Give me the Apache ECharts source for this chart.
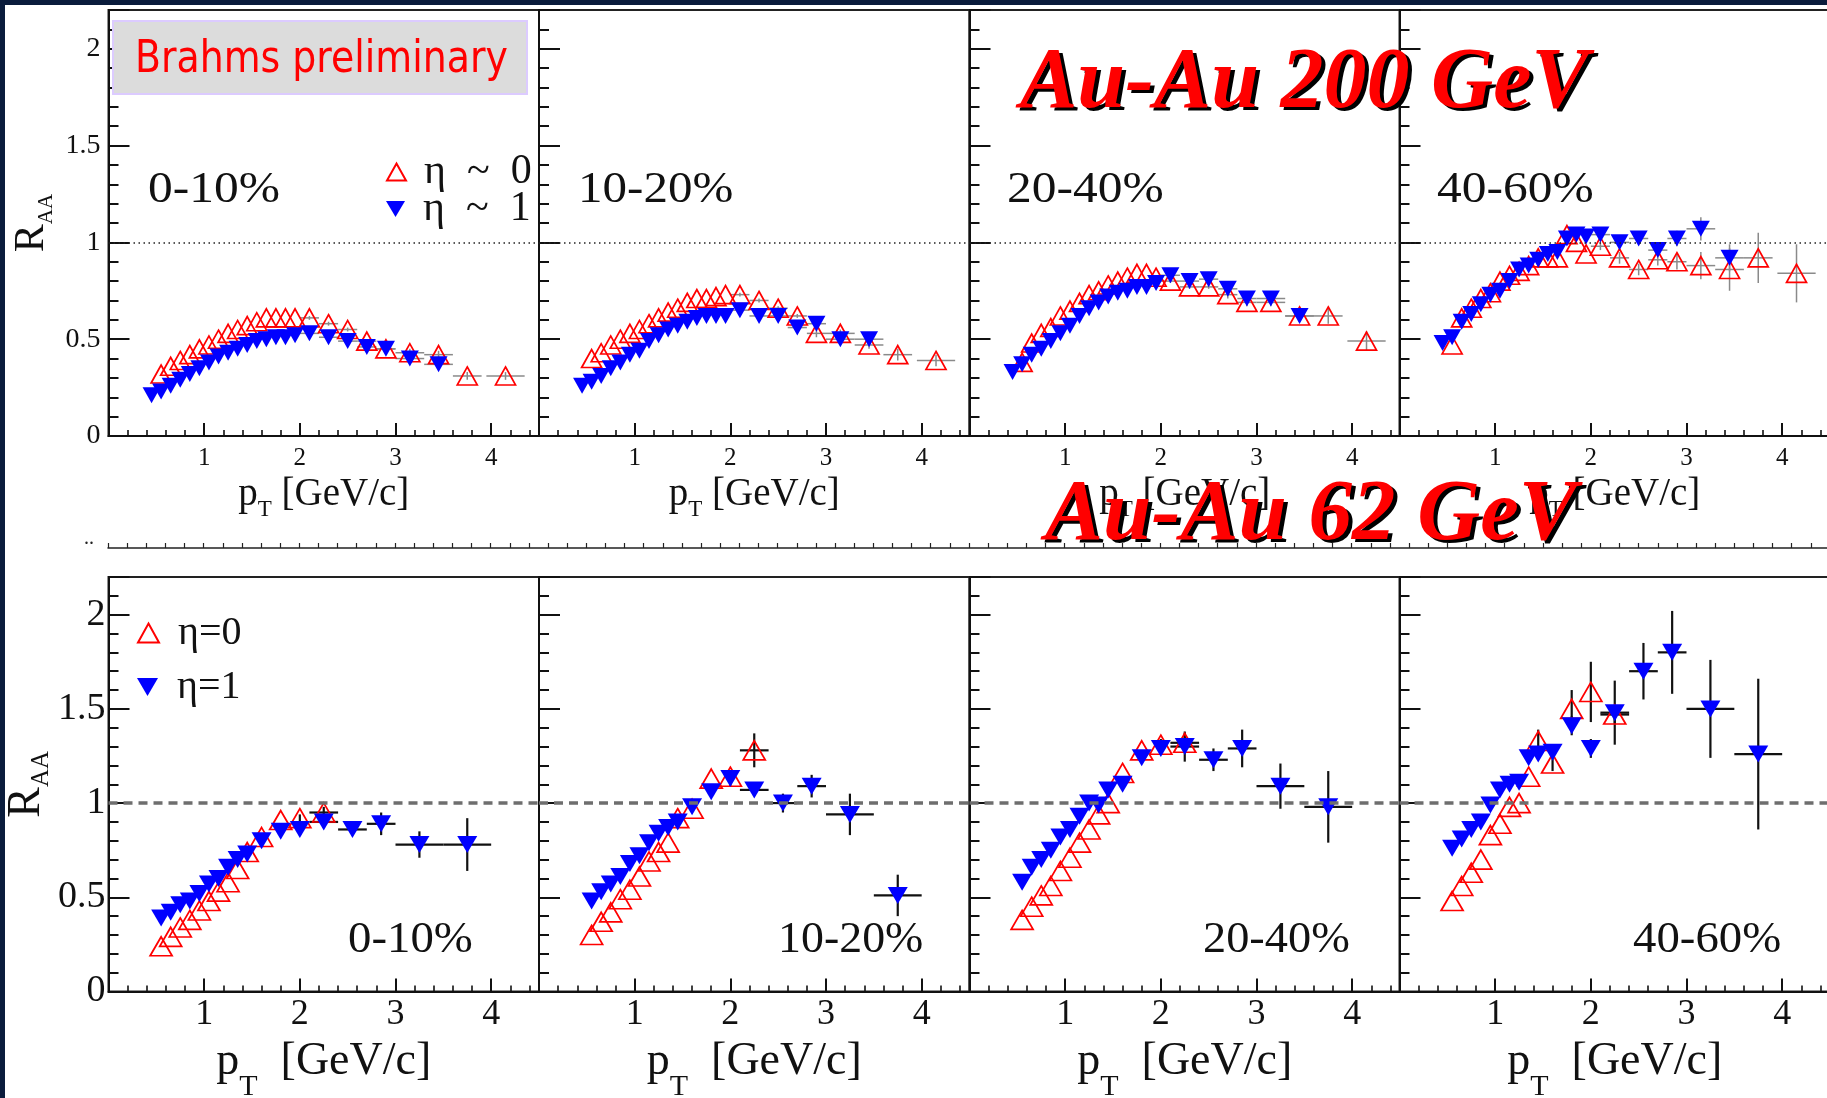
<!DOCTYPE html>
<html>
<head>
<meta charset="utf-8">
<script src="https://cdn.jsdelivr.net/npm/echarts@6/dist/echarts.min.js"></script>
<style>
html,body{margin:0;padding:0;background:#fff;}
#chart{width:1827px;height:1098px;}
</style>
</head>
<body>
<div id="chart"></div>
<script>
// ---------------- DATA ----------------
// Panel titles (centrality classes)
const centralities = ['0-10%', '10-20%', '20-40%', '40-60%'];
const xTickLabels = [1, 2, 3, 4];
const yTickLabels = [0, 0.5, 1, 1.5, 2];
const legendTop = ['η\u2002~\u20020', 'η\u2002~\u20021'];
const legendBottom = ['η=0', 'η=1'];

// Au-Au 200 GeV : pT bin centres and half widths
const ptTopEta0 = [0.55,0.65,0.75,0.85,0.95,1.05,1.15,1.25,1.35,1.45,1.55,1.65,1.75,1.85,1.95,2.1,2.3,2.5,2.7,2.9,3.15,3.45,3.75,4.15];
const binTopEta0 = [0,0,0,0,0,0,0,0,0,0,0,0,0,0,0,0.1,0.1,0.1,0.1,0.1,0.15,0.15,0.15,0.2];
const ptTopEta1 = [0.45,0.55,0.65,0.75,0.85,0.95,1.05,1.15,1.25,1.35,1.45,1.55,1.65,1.75,1.85,1.95,2.1,2.3,2.5,2.7,2.9,3.15,3.45];
const binTopEta1 = [0,0,0,0,0,0,0,0,0,0,0,0,0,0,0,0,0.1,0.1,0.1,0.1,0.1,0.15,0.15];

// Au-Au 200 GeV RAA values
const raa200_0010_eta0 = [0.32,0.36,0.39,0.42,0.45,0.47,0.50,0.53,0.55,0.57,0.59,0.61,0.61,0.61,0.61,0.61,0.58,0.55,0.49,0.45,0.43,0.42,0.31,0.31];
const raa200_0010_eta1 = [0.21,0.23,0.26,0.29,0.32,0.35,0.38,0.41,0.43,0.45,0.47,0.49,0.50,0.51,0.51,0.52,0.53,0.51,0.49,0.46,0.45,0.40,0.37];
const raa200_1020_eta0 = [0.40,0.43,0.47,0.50,0.53,0.55,0.58,0.61,0.64,0.66,0.69,0.71,0.71,0.72,0.73,0.73,0.70,0.66,0.62,0.53,0.53,0.47,0.42,0.39];
const raa200_1020_eta1 = [0.26,0.28,0.31,0.35,0.38,0.42,0.44,0.49,0.52,0.55,0.57,0.59,0.61,0.62,0.62,0.62,0.65,0.62,0.62,0.56,0.58,0.50,0.50];
const raa200_2040_eta0 = [0.38,0.48,0.53,0.56,0.62,0.65,0.69,0.73,0.75,0.78,0.80,0.82,0.84,0.84,0.82,0.80,0.77,0.77,0.73,0.69,0.69,0.62,0.62,0.49];
const raa200_2040_eta1 = [0.33,0.37,0.42,0.45,0.49,0.53,0.57,0.62,0.66,0.69,0.72,0.74,0.75,0.77,0.77,0.79,0.83,0.80,0.81,0.76,0.71,0.71,0.62];
const raa200_4060_eta0 = [0.47,0.61,0.66,0.71,0.74,0.80,0.83,0.85,0.88,0.92,0.92,0.92,1.04,1.00,0.94,0.98,0.92,0.86,0.91,0.90,0.88,0.86,0.92,0.84];
const raa200_4060_eta1 = [0.48,0.51,0.59,0.63,0.68,0.73,0.75,0.80,0.86,0.88,0.91,0.94,0.95,1.02,1.04,1.03,1.04,1.00,1.02,0.96,1.02,1.07,0.92];

// Au-Au 200 GeV statistical errors
const err200_0010_eta0 = [0,0,0,0,0,0,0,0,0,0,0,0,0,0,0,0.01,0.01,0.01,0.01,0.01,0.02,0.02,0.02,0.02];
const err200_0010_eta1 = [0,0,0,0,0,0,0,0,0,0,0,0,0,0,0,0,0.01,0.01,0.01,0.01,0.02,0.02,0.02];
const err200_1020_eta0 = [0,0,0,0,0,0,0,0,0,0,0,0,0,0,0,0.01,0.01,0.01,0.01,0.02,0.02,0.02,0.03,0.03];
const err200_1020_eta1 = [0,0,0,0,0,0,0,0,0,0,0,0,0,0,0,0,0.01,0.01,0.01,0.02,0.02,0.02,0.03];
const err200_2040_eta0 = [0,0,0,0,0,0,0,0,0,0,0,0,0,0,0,0.01,0.01,0.01,0.02,0.02,0.02,0.03,0.04,0.05];
const err200_2040_eta1 = [0,0,0,0,0,0,0,0,0,0,0,0,0,0,0,0,0.01,0.01,0.02,0.02,0.02,0.03,0.03];
const err200_4060_eta0 = [0,0,0,0,0,0,0,0,0,0,0,0,0,0,0,0.02,0.03,0.03,0.03,0.04,0.07,0.11,0.13,0.15];
const err200_4060_eta1 = [0,0,0,0,0,0,0,0,0,0,0,0,0,0,0,0,0.02,0.02,0.03,0.03,0.04,0.06,0.07];

// Au-Au 62 GeV : pT bin centres and half widths
const ptBotEta0 = [0.55,0.65,0.75,0.85,0.95,1.05,1.15,1.25,1.35,1.45,1.6,1.8,2.0,2.25];
const binBotEta0 = [0,0,0,0,0,0,0,0,0,0,0,0,0,0.15];
const ptBotEta1 = [0.55,0.65,0.75,0.85,0.95,1.05,1.15,1.25,1.35,1.45,1.6,1.8,2.0,2.25,2.55,2.85,3.25,3.75];
const binBotEta1 = [0,0,0,0,0,0,0,0,0,0,0,0,0,0.15,0.15,0.15,0.25,0.25];

// Au-Au 62 GeV RAA values
const raa62_0010_eta0 = [0.24,0.29,0.34,0.38,0.43,0.48,0.53,0.58,0.65,0.74,0.82,0.91,0.92,0.95];
const raa62_0010_eta1 = [0.39,0.42,0.46,0.48,0.52,0.57,0.60,0.66,0.70,0.73,0.80,0.85,0.86,0.90,0.86,0.89,0.78,0.78];
const raa62_1020_eta0 = [0.30,0.37,0.42,0.49,0.54,0.61,0.69,0.74,0.79,0.92,0.97,1.13,1.14,1.28];
const raa62_1020_eta1 = [0.48,0.53,0.57,0.61,0.68,0.72,0.79,0.84,0.87,0.90,0.98,1.06,1.13,1.07,1.00,1.09,0.94,0.51];
const raa62_2040_eta0 = [0.38,0.45,0.51,0.56,0.64,0.71,0.79,0.86,0.94,1.00,1.16,1.28,1.31,1.32];
const raa62_2040_eta1 = [0.58,0.66,0.70,0.75,0.82,0.86,0.93,1.00,0.99,1.07,1.10,1.24,1.29,1.30,1.23,1.29,1.09,0.98];
const raa62_4060_eta0 = [0.48,0.56,0.63,0.70,0.83,0.89,0.98,1.00,1.14,1.33,1.21,1.50,1.59,1.47];
const raa62_4060_eta1 = [0.76,0.81,0.86,0.90,0.99,1.07,1.10,1.11,1.24,1.26,1.27,1.41,1.29,1.48,1.70,1.80,1.50,1.26];

// Au-Au 62 GeV statistical errors
const err62_0010_eta0 = [0,0,0,0,0,0,0,0,0,0,0,0,0.02,0.03];
const err62_0010_eta1 = [0,0,0,0,0,0,0,0,0,0,0,0,0,0.03,0.03,0.06,0.07,0.14];
const err62_1020_eta0 = [0,0,0,0,0,0,0,0,0,0,0,0,0.03,0.09];
const err62_1020_eta1 = [0,0,0,0,0,0,0,0,0,0,0,0,0.04,0.03,0.05,0.06,0.11,0.11];
const err62_2040_eta0 = [0,0,0,0,0,0,0,0,0,0,0,0,0.03,0.05];
const err62_2040_eta1 = [0,0,0,0,0,0,0,0,0,0,0,0,0,0.08,0.06,0.10,0.12,0.19];
const err62_4060_eta0 = [0,0,0,0,0,0,0,0,0,0.06,0.04,0.10,0.16,0.05];
const err62_4060_eta1 = [0,0,0,0,0,0,0,0,0,0,0,0.05,0.05,0.17,0.15,0.22,0.26,0.40];

// ---------------- BUILD ----------------
const SERIF = '"Liberation Serif", "Times New Roman", Times, serif';
const rows = [
  { top: 10, height: 426, names: legendTop,
    pt0: ptTopEta0, bin0: binTopEta0, pt1: ptTopEta1, bin1: binTopEta1,
    v0: [raa200_0010_eta0, raa200_1020_eta0, raa200_2040_eta0, raa200_4060_eta0],
    v1: [raa200_0010_eta1, raa200_1020_eta1, raa200_2040_eta1, raa200_4060_eta1],
    e0: [err200_0010_eta0, err200_1020_eta0, err200_2040_eta0, err200_4060_eta0],
    e1: [err200_0010_eta1, err200_1020_eta1, err200_2040_eta1, err200_4060_eta1] },
  { top: 577, height: 414.5, names: legendBottom,
    pt0: ptBotEta0, bin0: binBotEta0, pt1: ptBotEta1, bin1: binBotEta1,
    v0: [raa62_0010_eta0, raa62_1020_eta0, raa62_2040_eta0, raa62_4060_eta0],
    v1: [raa62_0010_eta1, raa62_1020_eta1, raa62_2040_eta1, raa62_4060_eta1],
    e0: [err62_0010_eta0, err62_1020_eta0, err62_2040_eta0, err62_4060_eta0],
    e1: [err62_0010_eta1, err62_1020_eta1, err62_2040_eta1, err62_4060_eta1] }
];
const panelLeft = [108.5, 539, 969.5, 1399.5];
const panelWidth = 430.5;

const grids = [], xAxes = [], yAxes = [], series = [];

function errRender(color, width) {
  return function (params, api) {
    const x = api.value(0), y = api.value(1), ex = api.value(2), ey = api.value(3);
    const c = api.coord([x, y]);
    const ch = [];
    if (ey > 0) {
      const a = api.coord([x, y - ey]), b = api.coord([x, y + ey]);
      ch.push({ type: 'line', shape: { x1: c[0], y1: a[1], x2: c[0], y2: b[1] }, style: { stroke: color, lineWidth: width } });
    }
    if (ex > 0) {
      const a = api.coord([x - ex, y]), b = api.coord([x + ex, y]);
      ch.push({ type: 'line', shape: { x1: a[0], y1: c[1], x2: b[0], y2: c[1] }, style: { stroke: color, lineWidth: width } });
    }
    return { type: 'group', children: ch };
  };
}
function serifRich(size, extra) {
  return Object.assign({ fontFamily: SERIF, fontSize: size, color: '#111' }, extra || {});
}

rows.forEach((row, r) => {
  const big = r === 1;
  for (let p = 0; p < 4; p++) {
    const g = r * 4 + p;
    grids.push({ left: panelLeft[p], top: row.top, width: panelWidth, height: row.height,
      show: true, borderColor: '#222', borderWidth: 2, backgroundColor: '#fff',
      containLabel: false, outerBoundsMode: 'none' });
    xAxes.push({
      type: 'value', gridIndex: g, min: 0, max: 4.5, interval: 1,
      axisLine: { show: true, onZero: false, lineStyle: { color: '#111', width: 2 } },
      axisTick: { show: true, inside: true, length: 13, lineStyle: { color: '#111', width: 2 } },
      minorTick: { show: true, splitNumber: 5, length: 6, lineStyle: { color: '#111', width: 1.6 } },
      splitLine: { show: false }, minorSplitLine: { show: false },
      axisLabel: {
        fontFamily: SERIF, fontSize: big ? 36 : 25, color: '#111', margin: big ? 5 : 10,
        formatter: v => xTickLabels.indexOf(Math.round(v * 1000) / 1000) >= 0 ? String(Math.round(v)) : ''
      },
      name: big ? '{p|p}{t|T}{p|  [GeV/c]}' : '{p|p}{t|T}{p| [GeV/c]}',
      nameLocation: 'middle',
      nameGap: big ? 29.5 : 33,
      nameTextStyle: {
        rich: big ? {
          p: serifRich(46, { lineHeight: 81, verticalAlign: 'middle' }),
          t: serifRich(30, { lineHeight: 21, verticalAlign: 'bottom' })
        } : {
          p: serifRich(39, { lineHeight: 52, verticalAlign: 'middle' }),
          t: serifRich(23, { lineHeight: 14, verticalAlign: 'bottom' })
        }
      }
    });
    yAxes.push({
      type: 'value', gridIndex: g, min: 0, max: 2.2, interval: 0.5,
      axisLine: { show: true, onZero: false, lineStyle: { color: '#111', width: 2 } },
      axisTick: { show: true, inside: true, length: 21, lineStyle: { color: '#111', width: 2 } },
      minorTick: { show: true, splitNumber: 5, length: 10, lineStyle: { color: '#111', width: 2 } },
      splitLine: { show: false }, minorSplitLine: { show: false },
      axisLabel: {
        show: p === 0, fontFamily: SERIF, fontSize: big ? 38 : 28, color: '#111', margin: big ? 3 : 8,
        formatter: v => yTickLabels.indexOf(Math.round(v * 1000) / 1000) >= 0 ? String(Math.round(v * 10) / 10) : ''
      },
      name: p === 0 ? '{r|R}{s|AA}' : '',
      nameLocation: 'middle', nameRotate: 90,
      nameGap: 52,
      nameTextStyle: {
        rich: big ? {
          r: serifRich(46, { lineHeight: 54, verticalAlign: 'middle' }),
          s: serifRich(25, { lineHeight: 14, verticalAlign: 'bottom' })
        } : {
          r: serifRich(42, { lineHeight: 49, verticalAlign: 'middle' }),
          s: serifRich(21, { lineHeight: 12, verticalAlign: 'bottom' })
        }
      }
    });

    const errColor = big ? '#111' : '#8a8a8a';
    const errWidth = big ? 2.2 : 1.5;
    series.push({
      type: 'custom', xAxisIndex: g, yAxisIndex: g, silent: true, z: 2,
      renderItem: errRender(errColor, errWidth), encode: { x: 0, y: 1 },
      data: row.pt0.map((x, i) => [x, row.v0[p][i], row.bin0[i], row.e0[p][i]])
    });
    series.push({
      type: 'custom', xAxisIndex: g, yAxisIndex: g, silent: true, z: 2,
      renderItem: errRender(errColor, errWidth), encode: { x: 0, y: 1 },
      data: row.pt1.map((x, i) => [x, row.v1[p][i], row.bin1[i], row.e1[p][i]])
    });
    series.push({
      type: 'scatter', name: row.names[0], xAxisIndex: g, yAxisIndex: g, silent: true, z: 3,
      symbol: 'triangle', symbolSize: big ? [22, 19] : [20, 18],
      itemStyle: { color: 'rgba(255,255,255,0)', borderColor: '#ff0000', borderWidth: 1.7, opacity: 1 },
      data: row.pt0.map((x, i) => [x, row.v0[p][i]]),
      markLine: {
        silent: true, symbol: ['none', 'none'], label: { show: false },
        lineStyle: big ? { color: '#6e6e6e', width: 3.5, type: [9, 6] } : { color: '#222', width: 1.5, type: [1.5, 3.5] },
        data: [{ yAxis: 1 }]
      }
    });
    series.push({
      type: 'scatter', name: row.names[1], xAxisIndex: g, yAxisIndex: g, silent: true, z: 4,
      symbol: 'path://M0 0L20 0L10 17Z', symbolSize: big ? [20, 17] : [18, 16],
      itemStyle: { color: '#0000ff', opacity: 1 },
      data: row.pt1.map((x, i) => [x, row.v1[p][i]])
    });
  }
});

// decorative hidden-axis line between the two rows
grids.push({ left: 108, top: 547, width: 1722, height: 1, show: false, containLabel: false, outerBoundsMode: 'none' });
xAxes.push({ type: 'value', gridIndex: 8, min: 0, max: 18, interval: 0.2,
  axisLine: { show: true, onZero: false, lineStyle: { color: '#222', width: 1.5 } },
  axisTick: { show: true, inside: true, length: 5, lineStyle: { color: '#222', width: 1.2 } },
  axisLabel: { show: false }, splitLine: { show: false } });
yAxes.push({ type: 'value', gridIndex: 8, min: 0, max: 1, show: false });

// panel labels (graphic text, slightly widened like the original bitmap font)
const panelLabelPos = [
  [148, 190, 1.1], [578, 190, 1.09], [1007, 190, 1.1], [1437, 190, 1.1],
  [348, 940, 1.04], [778, 940, 1.02], [1203, 940, 1.03], [1633, 940, 1.04]
];
const graphics = [];
panelLabelPos.forEach((pos, i) => {
  graphics.push({ type: 'text', x: pos[0], y: pos[1], scaleX: pos[2], z: 50,
    style: { text: centralities[i % 4], fontFamily: SERIF, fontSize: 45, fill: '#111', align: 'left', verticalAlign: 'middle' } });
});
// energy titles with black shadow
const titles = [];
function energyTitle(t, x, cy, size) {
  const base = { fontWeight: 'bold', fontStyle: 'italic' };
  titles.push({ text: '{a|' + t + '}', left: x + 4, top: cy - size / 2 + 3, padding: 0, z: 60,
    textStyle: { fontSize: size, rich: { a: serifRich(size, Object.assign({ color: '#000000' }, base)) } } });
  titles.push({ text: '{a|' + t + '}', left: x, top: cy - size / 2, padding: 0, z: 61,
    textStyle: { fontSize: size, rich: { a: serifRich(size, Object.assign({ color: '#ff0000' }, base)) } } });
}
energyTitle('Au-Au 200 GeV', 1020, 85, 86);
energyTitle('Au-Au 62 GeV', 1045, 517, 87);

// Brahms preliminary box
graphics.push({ type: 'rect', z: 40, shape: { x: 113, y: 21, width: 414, height: 73 },
  style: { fill: '#dcdcdc', stroke: '#dccbff', lineWidth: 2 } });
graphics.push({ type: 'text', x: 135, y: 61, scaleX: 0.86, z: 41,
  style: { text: 'Brahms preliminary', fontFamily: 'DejaVu Sans', fontSize: 44, fill: '#ff0000', align: 'left', verticalAlign: 'middle' } });
graphics.push({ type: 'text', x: 84, y: 549, z: 20,
  style: { text: '..', fontFamily: SERIF, fontSize: 20, fill: '#222', align: 'left', verticalAlign: 'bottom' } });
// slide frame
graphics.push({ type: 'rect', z: 100, shape: { x: 0, y: 0, width: 1827, height: 5 }, style: { fill: '#0a1c3c' } });
graphics.push({ type: 'rect', z: 100, shape: { x: 0, y: 0, width: 5, height: 1098 }, style: { fill: '#0a1c3c' } });

function legendItem(name, left, cy, size, icoW, icoH, pad) {
  return { data: [name], orient: 'vertical', left: left, top: cy - size / 2, itemWidth: icoW, itemHeight: icoH,
    selectedMode: false, padding: 0,
    textStyle: { fontFamily: SERIF, fontSize: size, color: '#111', padding: [0, 0, 0, pad] } };
}

const chart = echarts.init(document.getElementById('chart'), null, { renderer: 'canvas' });
chart.setOption({
  animation: false,
  backgroundColor: '#ffffff',
  textStyle: { fontFamily: SERIF },
  title: titles,
  grid: grids,
  xAxis: xAxes,
  yAxis: yAxes,
  legend: [
    legendItem(legendTop[0], 386, 172, 42, 19, 17, 13),
    legendItem(legendTop[1], 386, 209, 42, 19, 17, 13),
    legendItem(legendBottom[0], 137, 633, 40, 21, 19, 14),
    legendItem(legendBottom[1], 137, 687, 40, 21, 19, 14)
  ],
  series: series,
  graphic: graphics
});
</script>
</body>
</html>
